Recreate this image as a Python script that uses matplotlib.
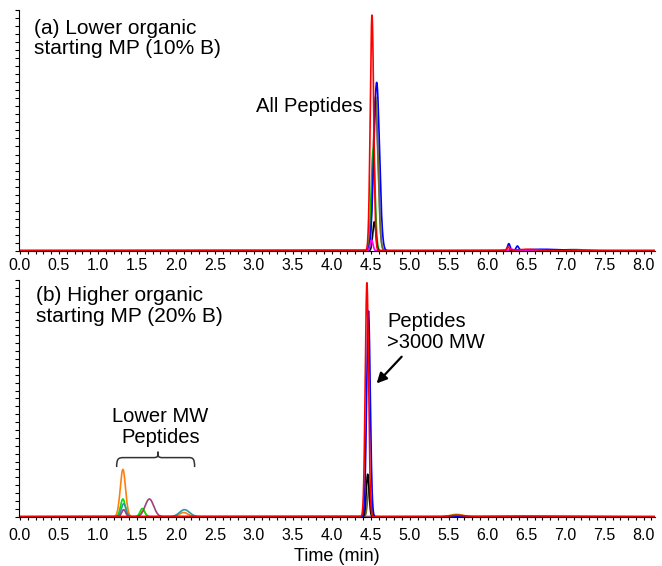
import matplotlib.pyplot as plt
import numpy as np
from matplotlib.path import Path
from matplotlib.patches import PathPatch
from matplotlib.ticker import MultipleLocator

plt.rcParams['font.family'] = ['Liberation Sans', 'DejaVu Sans']

# peak tables: colour -> (centres [min], heights [rel.], widths [min])
# panel (a) lower organic start
a_colors = ['#7f7f7f', '#6b6b2a', '#00c000', '#0000ff', '#000000', '#ff00ff', '#ff0000']
a_centers = [[4.56, 7.1], [4.56], [4.53], [4.575, 6.27, 6.38, 6.7], [4.545], [4.51, 6.3], [4.515, 6.26, 6.5]]
a_heights = [[0.60, 0.005], [0.64], [0.42], [0.70, 0.028, 0.017, 0.006], [0.12], [0.045, 0.008], [0.98, 0.014, 0.006]]
a_widths = [[0.032, 0.15], [0.032], [0.025], [0.036, 0.016, 0.016, 0.25], [0.02], [0.018, 0.02], [0.022, 0.016, 0.15]]

# panel (b) higher organic start
b_colors = ['#ff7f0e', '#00e000', '#2a9aa8', '#a0407a', '#6b6b2a', '#000000', '#0000ff', '#ff0000']
b_centers = [[1.32, 1.58, 2.10, 5.6], [1.32, 1.57, 5.6], [1.33, 2.11], [1.33, 1.66], [4.48], [4.46], [4.47], [4.45, 5.6, 6.5]]
b_heights = [[0.20, 0.025, 0.018, 0.010], [0.075, 0.035, 0.007], [0.055, 0.030], [0.030, 0.075], [0.13], [0.18], [0.87], [0.99, 0.006, 0.003]]
b_widths = [[0.034, 0.028, 0.055, 0.08], [0.03, 0.03, 0.08], [0.03, 0.065], [0.025, 0.055], [0.02], [0.018], [0.023], [0.021, 0.08, 0.5]]

t = np.linspace(0, 8.15, 4000)


def trace(cs, hs, ws):
    y = np.zeros_like(t)
    for c, h, w in zip(cs, hs, ws):
        y += h * np.exp(-0.5 * ((t - c) / w) ** 2)
    return y


fig = plt.figure(figsize=(6.62, 5.66), dpi=100)
ax1 = fig.add_axes([0.029, 0.557, 0.961, 0.425])
ax2 = fig.add_axes([0.029, 0.087, 0.961, 0.418])

for ax, cols, cen, hei, wid in [(ax1, a_colors, a_centers, a_heights, a_widths),
                                (ax2, b_colors, b_centers, b_heights, b_widths)]:
    for col, cs, hs, ws in zip(cols, cen, hei, wid):
        ax.plot(t, trace(cs, hs, ws), color=col, lw=1.2)
    ax.set_xlim(-0.01, 8.15)
    ax.set_ylim(0, 1.0)
    ax.xaxis.set_major_locator(MultipleLocator(0.5))
    ax.xaxis.set_minor_locator(MultipleLocator(0.1))
    ax.xaxis.set_major_formatter(plt.FormatStrFormatter('%.1f'))
    ax.yaxis.set_major_locator(MultipleLocator(1 / 30))
    ax.set_yticklabels([])
    ax.tick_params(axis='y', length=3, width=0.8, direction='out')
    ax.tick_params(axis='x', which='both', length=2, width=0.8, direction='out', labelsize=11.5, pad=3)
    for s in ['top', 'right']:
        ax.spines[s].set_visible(False)

ax2.tick_params(axis='x', which='major', pad=6)

ax1.text(0.024, 0.965, '(a) Lower organic\nstarting MP (10% B)', transform=ax1.transAxes,
         fontsize=15, va='top', ha='left', linespacing=1.1)
ax1.text(4.40, 0.60, 'All Peptides', fontsize=14.5, ha='right', va='center')

ax2.text(0.026, 0.975, '(b) Higher organic\nstarting MP (20% B)', transform=ax2.transAxes,
         fontsize=15, va='top', ha='left', linespacing=1.1)
ax2.text(4.71, 0.78, 'Peptides\n>3000 MW', fontsize=14.5, ha='left', va='center', linespacing=1.1)
ax2.annotate('', xy=(4.55, 0.555), xytext=(4.92, 0.685),
             arrowprops=dict(arrowstyle='-|>', color='black', lw=1.6, mutation_scale=15))
ax2.text(1.80, 0.38, 'Lower MW\nPeptides', fontsize=14.5, ha='center', va='center', linespacing=1.15)

# curly brace over the low-MW peaks
verts = [(1.24, 0.21), (1.24, 0.245), (1.26, 0.25), (1.33, 0.25),
         (1.71, 0.25), (1.77, 0.25), (1.77, 0.255), (1.77, 0.275),
         (1.77, 0.255), (1.77, 0.25), (1.83, 0.25), (2.17, 0.25),
         (2.22, 0.25), (2.24, 0.245), (2.24, 0.21)]
codes = [Path.MOVETO, Path.CURVE4, Path.CURVE4, Path.CURVE4,
         Path.LINETO, Path.CURVE4, Path.CURVE4, Path.CURVE4,
         Path.CURVE4, Path.CURVE4, Path.CURVE4, Path.LINETO,
         Path.CURVE4, Path.CURVE4, Path.CURVE4]
ax2.add_patch(PathPatch(Path(verts, codes), fill=False, lw=1.1, color='#333333'))

ax2.set_xlabel('Time (min)', fontsize=13, labelpad=4)

fig.savefig('out.png', dpi=100)
